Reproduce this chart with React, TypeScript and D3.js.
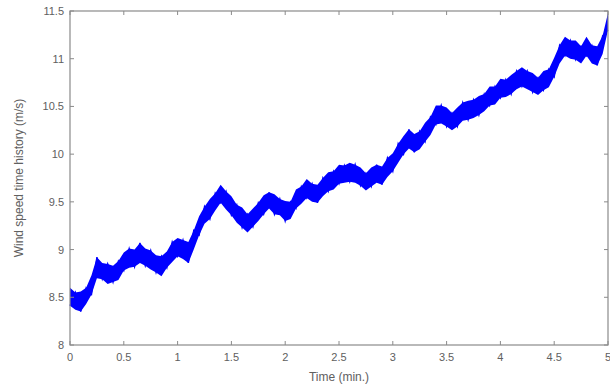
import React, { useEffect, useRef } from 'react';
import * as d3 from 'd3';

// time samples (min) and band edges of the wind speed trace (m/s)
const timeMin = [
  0.0, 0.05, 0.1, 0.15, 0.2, 0.25, 0.3, 0.35, 0.4, 0.45,
  0.5, 0.55, 0.6, 0.65, 0.7, 0.75, 0.8, 0.85, 0.9, 0.95,
  1.0, 1.05, 1.1, 1.15, 1.2, 1.25, 1.3, 1.35, 1.4, 1.45,
  1.5, 1.55, 1.6, 1.65, 1.7, 1.75, 1.8, 1.85, 1.9, 1.95,
  2.0, 2.05, 2.1, 2.15, 2.2, 2.25, 2.3, 2.35, 2.4, 2.45,
  2.5, 2.55, 2.6, 2.65, 2.7, 2.75, 2.8, 2.85, 2.9, 2.95,
  3.0, 3.05, 3.1, 3.15, 3.2, 3.25, 3.3, 3.35, 3.4, 3.45,
  3.5, 3.55, 3.6, 3.65, 3.7, 3.75, 3.8, 3.85, 3.9, 3.95,
  4.0, 4.05, 4.1, 4.15, 4.2, 4.25, 4.3, 4.35, 4.4, 4.45,
  4.5, 4.55, 4.6, 4.65, 4.7, 4.75, 4.8, 4.85, 4.9, 4.95,
  5.0,
];
const windHigh = [
  8.60, 8.55, 8.56, 8.60, 8.73, 8.92, 8.86, 8.85, 8.83, 8.88,
  8.97, 9.01, 9.00, 9.07, 9.01, 8.99, 8.94, 8.93, 8.98, 9.08,
  9.12, 9.10, 9.08, 9.20, 9.35, 9.45, 9.53, 9.59, 9.68, 9.61,
  9.56, 9.47, 9.44, 9.37, 9.43, 9.49, 9.57, 9.60, 9.58, 9.53,
  9.51, 9.50, 9.63, 9.66, 9.74, 9.69, 9.68, 9.75, 9.81, 9.82,
  9.89, 9.88, 9.91, 9.89, 9.86, 9.80, 9.86, 9.89, 9.87, 9.96,
  10.01, 10.11, 10.19, 10.26, 10.21, 10.24, 10.33, 10.39, 10.51, 10.51,
  10.49, 10.43, 10.49, 10.54, 10.56, 10.57, 10.61, 10.63, 10.71, 10.71,
  10.79, 10.78, 10.83, 10.87, 10.91, 10.87, 10.85, 10.80, 10.87, 10.89,
  11.01, 11.14, 11.23, 11.19, 11.19, 11.13, 11.23, 11.14, 11.13, 11.24,
  11.48,
];
const windLow = [
  8.41, 8.37, 8.35, 8.43, 8.53, 8.70, 8.69, 8.64, 8.66, 8.68,
  8.78, 8.81, 8.82, 8.86, 8.83, 8.79, 8.76, 8.72, 8.81, 8.87,
  8.93, 8.90, 8.86, 9.00, 9.15, 9.27, 9.32, 9.41, 9.49, 9.42,
  9.36, 9.28, 9.23, 9.18, 9.24, 9.30, 9.37, 9.43, 9.37, 9.36,
  9.30, 9.32, 9.43, 9.48, 9.54, 9.50, 9.49, 9.56, 9.61, 9.63,
  9.69, 9.70, 9.71, 9.70, 9.67, 9.62, 9.66, 9.70, 9.68, 9.76,
  9.82, 9.91, 10.00, 10.06, 10.02, 10.05, 10.13, 10.20, 10.31, 10.32,
  10.29, 10.25, 10.29, 10.35, 10.36, 10.38, 10.41, 10.45, 10.51, 10.52,
  10.59, 10.60, 10.63, 10.68, 10.71, 10.68, 10.65, 10.62, 10.67, 10.70,
  10.81, 10.95, 11.03, 11.00, 10.99, 10.95, 11.03, 10.95, 10.93, 11.05,
  11.30,
];
const xTicks = [0, 0.5, 1, 1.5, 2, 2.5, 3, 3.5, 4, 4.5, 5];
const yTicks = [8, 8.5, 9, 9.5, 10, 10.5, 11, 11.5];

const W = 610;
const H = 387;
const margin = { top: 11, right: 2, bottom: 42, left: 70 };

export default function App() {
  const ref = useRef<SVGSVGElement>(null);

  useEffect(() => {
    document.body.style.margin = '0';
    const svg = d3.select(ref.current);
    svg.selectAll('*').remove();

    const iw = W - margin.left - margin.right;
    const ih = H - margin.top - margin.bottom;
    const x = d3.scaleLinear().domain([0, 5]).range([0, iw]);
    const y = d3.scaleLinear().domain([8, 11.5]).range([ih, 0]);

    const g = svg.append('g').attr('transform', `translate(${margin.left},${margin.top})`);
    const rows = timeMin.map((t, i) => ({ t, lo: windLow[i], hi: windHigh[i] }));

    // noisy band
    const band = d3.area<any>().x(d => x(d.t)).y0(d => y(d.lo)).y1(d => y(d.hi));
    g.append('path').attr('d', band(rows)).attr('fill', '#0000ff');

    // zigzag between the edges for the jitter texture
    const zig: [number, number][] = [];
    rows.forEach((d, i) => {
      zig.push([x(d.t), y(i % 2 ? d.hi : d.lo)]);
    });
    g.append('path')
      .attr('d', d3.line()(zig))
      .attr('fill', 'none')
      .attr('stroke', '#0000ff')
      .attr('stroke-width', 1.4);

    // box and ticks
    const axisCol = '#8a8a8a';
    g.append('rect')
      .attr('width', iw).attr('height', ih)
      .attr('fill', 'none').attr('stroke', axisCol).attr('stroke-width', 1.2);

    const tl = 4;
    xTicks.forEach(v => {
      g.append('line').attr('x1', x(v)).attr('x2', x(v)).attr('y1', ih).attr('y2', ih - tl).attr('stroke', axisCol);
      g.append('line').attr('x1', x(v)).attr('x2', x(v)).attr('y1', 0).attr('y2', tl).attr('stroke', axisCol);
      g.append('text')
        .attr('x', x(v)).attr('y', ih + 16)
        .attr('text-anchor', 'middle')
        .attr('font-family', 'Liberation Sans, Arial, sans-serif')
        .attr('font-size', 11).attr('fill', '#606060')
        .text(String(v));
    });
    yTicks.forEach(v => {
      g.append('line').attr('x1', 0).attr('x2', tl).attr('y1', y(v)).attr('y2', y(v)).attr('stroke', axisCol);
      g.append('line').attr('x1', iw).attr('x2', iw - tl).attr('y1', y(v)).attr('y2', y(v)).attr('stroke', axisCol);
      g.append('text')
        .attr('x', -6).attr('y', y(v) + 4)
        .attr('text-anchor', 'end')
        .attr('font-family', 'Liberation Sans, Arial, sans-serif')
        .attr('font-size', 11).attr('fill', '#606060')
        .text(String(v));
    });

    svg.append('text')
      .attr('x', margin.left + iw / 2).attr('y', H - 6)
      .attr('text-anchor', 'middle')
      .attr('font-family', 'Liberation Sans, Arial, sans-serif')
      .attr('font-size', 12).attr('fill', '#606060')
      .text('Time (min.)');

    svg.append('text')
      .attr('transform', `translate(23,${margin.top + ih / 2}) rotate(-90)`)
      .attr('text-anchor', 'middle')
      .attr('font-family', 'Liberation Sans, Arial, sans-serif')
      .attr('font-size', 12).attr('fill', '#606060')
      .text('Wind speed time history (m/s)');
  }, []);

  return <svg ref={ref} width={W} height={H} style={{ display: 'block', background: '#fff' }} />;
}
